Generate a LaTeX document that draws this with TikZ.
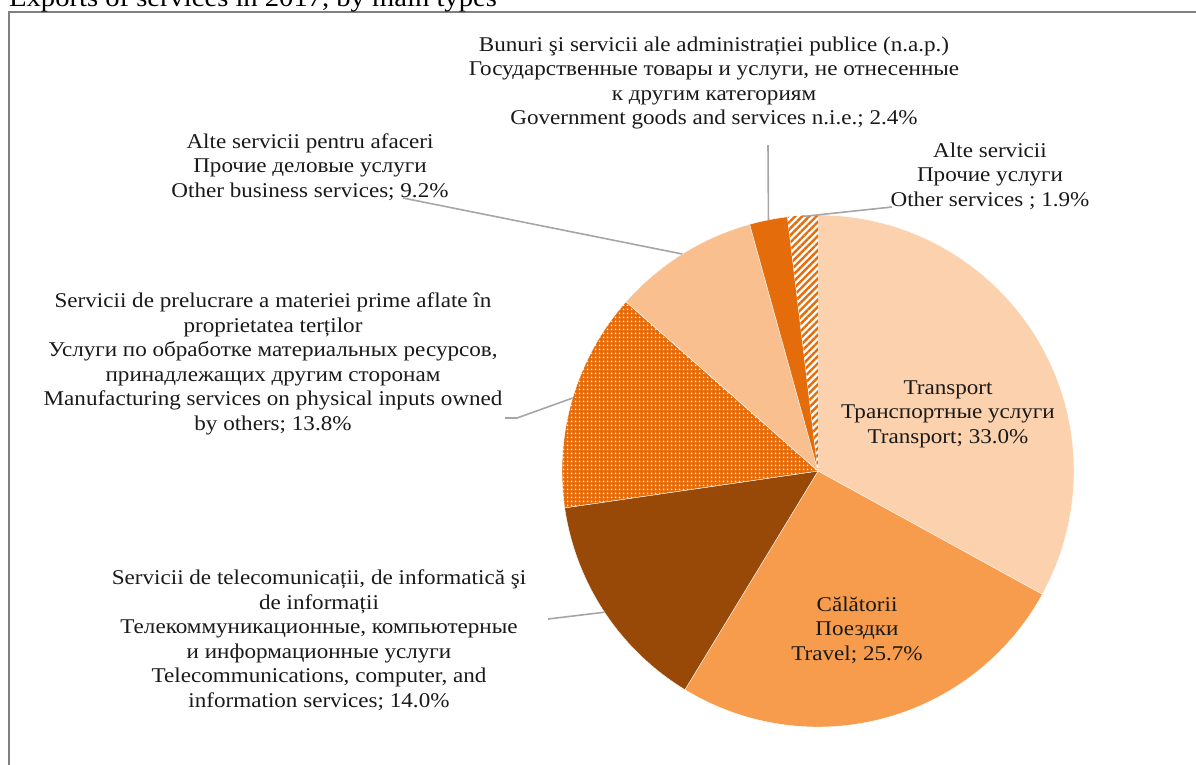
\documentclass[tikz,border=0pt]{standalone}
\usepackage{fontspec}
\setmainfont{Liberation Serif}[FakeStretch=1.1]
\usetikzlibrary{patterns.meta}

\definecolor{transport}{HTML}{FCD1AD}
\definecolor{travel}{HTML}{F79B4C}
\definecolor{telecom}{HTML}{984807}
\definecolor{business}{HTML}{FABF8F}
\definecolor{deeporange}{HTML}{E46C0A}

\begin{document}
\begin{tikzpicture}[x=1pt, y=-1pt,
                    label text/.style = {align=center, inner sep=0pt, text=black!90,
                                         font=\fontsize{21}{24.5}\selectfont},
                    leader/.style = {draw=black!35, line width=1.6pt},
                    slice/.style = {draw=white, line width=0.4pt}]
  \useasboundingbox (0,0) rectangle (1196,764);
  \draw [black!50, line width=1.5pt] (9,790) -- (9,12) -- (1220,12);
  \node [anchor=base west, inner sep=0pt, font=\fontsize{26}{30}\selectfont] (title) at (9,6)
    {Exports of services in 2017, by main types};

  % pie, clockwise from the top
  \coordinate (c) at (818,471);
  \fill [transport, slice] (c) -- ++(-90:256) arc [start angle=-90, end angle=28.8, radius=256] -- cycle;
  \fill [travel, slice] (c) -- ++(28.8:256) arc [start angle=28.8, end angle=121.32, radius=256] -- cycle;
  \fill [telecom, slice] (c) -- ++(121.32:256) arc [start angle=121.32, end angle=171.72, radius=256] -- cycle;
  \filldraw [fill=deeporange, slice,
             postaction={pattern={Dots[radius=1.1pt, distance=4pt]}, pattern color=white}]
    (c) -- ++(171.72:256) arc [start angle=171.72, end angle=221.4, radius=256] -- cycle;
  \fill [business, slice] (c) -- ++(221.4:256) arc [start angle=221.4, end angle=254.52, radius=256] -- cycle;
  \fill [deeporange, slice] (c) -- ++(254.52:256) arc [start angle=254.52, end angle=263.16, radius=256] -- cycle;
  \filldraw [fill=white, slice,
             postaction={pattern={Lines[angle=45, distance=5pt, line width=2.4pt]}, pattern color=deeporange}]
    (c) -- ++(263.16:256) arc [start angle=263.16, end angle=270, radius=256] -- cycle;

  % labels
  \node [label text] (trn) at (948,414) {Transport\\ Транспортные услуги\\ Transport; 33.0\%};
  \node [label text] (trv) at (857,630) {Călătorii\\ Поездки\\ Travel; 25.7\%};
  \node [label text] (gov) at (714,83)
    {Bunuri şi servicii ale administrației publice (n.a.p.)\\ Государственные товары и услуги, не отнесенные\\
     к другим категориям\\ Government goods and services n.i.e.; 2.4\%};
  \node [label text] (oth) at (990,176) {Alte servicii\\ Прочие услуги\\ Other services ; 1.9\%};
  \node [label text] (bus) at (310,167)
    {Alte servicii pentru afaceri\\ Прочие деловые услуги\\ Other business services; 9.2\%};
  \node [label text] (mfg) at (273,364)
    {Servicii de prelucrare a materiei prime aflate în\\ proprietatea terților\\
     Услуги по обработке материальных ресурсов,\\ принадлежащих другим сторонам\\
     Manufacturing services on physical inputs owned\\ by others; 13.8\%};
  \node [label text] (tel) at (319,640)
    {Servicii de telecomunicații, de informatică şi\\ de informații\\
     Телекоммуникационные, компьютерные\\ и информационные услуги\\
     Telecommunications, computer, and\\ information services; 14.0\%};

  % leader lines
  \path (c) ++(258.84:256) coordinate (gov tip);
  \path (c) ++(266.58:255) coordinate (oth tip);
  \path (c) ++(237.96:256) coordinate (bus tip);
  \path (c) ++(196.56:256) coordinate (mfg tip);
  \path (c) ++(146.52:256) coordinate (tel tip);
  \coordinate (gov foot) at (768,145);
  \coordinate (oth foot) at (892,207);
  \coordinate (bus foot) at (403,198);
  \coordinate (mfg foot) at (505,418);
  \coordinate (tel foot) at (548,619);
  \draw [leader] (gov foot) -- (gov tip);
  \draw [leader] (oth foot) -- (oth tip);
  \draw [leader] (bus foot) -- (bus tip);
  \draw [leader] (mfg foot) -- ++(12,0) -- (mfg tip);
  \draw [leader] (tel foot) -- (tel tip);
\end{tikzpicture}
\end{document}
